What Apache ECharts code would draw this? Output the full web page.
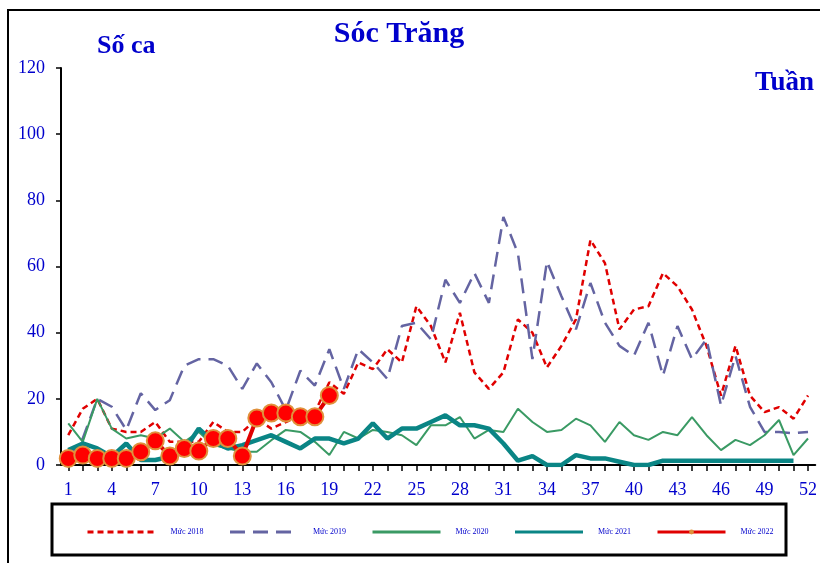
<!DOCTYPE html>
<html>
<head>
<meta charset="utf-8">
<script src="https://cdn.jsdelivr.net/npm/echarts@6/dist/echarts.min.js"></script>
<style>
  html, body { margin: 0; padding: 0; background: #fff; }
</style>
</head>
<body>
<div id="socTrangChart" style="width: 820px; height: 563px;"></div>
<script>
// tuần 1..52
let weeks = [];
for (let i = 1; i <= 52; i++) {
  weeks.push(String(i));
}

let yTicks = [0, 20, 40, 60, 80, 100, 120];

let muc2018 = [9, 17, 20, 11, 10, 10, 13, 7, 7, 7, 13, 10, 10, 14, 11, 13, 15, 16, 25, 21.5,
  31, 29, 35, 31, 48, 42, 31, 46, 28, 23, 28, 44, 40, 29.5, 36, 44, 68, 61, 41, 47,
  48, 58, 54, 47, 36, 21, 36, 21, 16, 17.5, 14, 21];

let muc2019 = [2, 8, 20, 17.6, 10.6, 21.7, 16.6, 19.6, 30, 32, 32, 30, 23, 30.7, 25, 16.6, 28.5, 24, 35, 23,
  35, 31, 26, 42, 43, 38, 56, 49, 58, 49, 75, 64, 32, 61.5, 51, 41, 55, 43, 36, 33,
  43, 27, 42, 32, 38, 18, 33, 17.6, 10, 10, 9.6, 10];

let muc2020 = [12.6, 7, 20, 11, 8, 9, 8, 11, 7, 10, 6, 5, 4, 4, 7.5, 10.6, 10, 7, 3, 10,
  8, 10.6, 10, 9, 6, 12, 12, 14.5, 8, 10.6, 10, 17, 13, 10, 10.6, 14, 12, 7, 13, 9,
  7.6, 10, 9, 14.5, 9, 4.5, 7.6, 6, 9, 13.6, 3, 8];

let muc2021 = [4.5, 6.5, 5, 2.5, 6.5, 1.5, 1.5, 2.5, 4.5, 11, 7, 5, 6, 7.5, 9, 7, 5, 8, 8, 6.5,
  8, 12.6, 8, 11, 11, 13, 15, 12, 12, 11, 6.5, 1.3, 2.7, 0, 0, 3, 2, 2, 1, 0,
  0, 1.3, 1.3, 1.3, 1.3, 1.3, 1.3, 1.3, 1.3, 1.3, 1.3, null];

let muc2022 = [2, 3, 2, 2, 2, 4, 7.3, 2.7, 5, 4.2, 8, 8, 2.7, 14.2, 15.7, 15.7, 14.6, 14.6, 21];

let blue = "#0000cc";
let serif = "Liberation Serif";

let seriesData = [];
seriesData.push({
  name: "Mức 2018",
  type: "line",
  symbol: "none",
  lineStyle: { color: "#e00000", width: 2.5, type: [6, 4] },
  itemStyle: { color: "#e00000" },
  data: muc2018
});
seriesData.push({
  name: "Mức 2019",
  type: "line",
  symbol: "none",
  lineStyle: { color: "#6464a2", width: 2.5, type: [15, 8] },
  itemStyle: { color: "#6464a2" },
  data: muc2019
});
seriesData.push({
  name: "Mức 2020",
  type: "line",
  symbol: "none",
  lineStyle: { color: "#3a9a64", width: 2 },
  itemStyle: { color: "#3a9a64" },
  data: muc2020
});
seriesData.push({
  name: "Mức 2021",
  type: "line",
  symbol: "none",
  lineStyle: { color: "#0a8585", width: 4.5 },
  itemStyle: { color: "#0a8585" },
  data: muc2021
});
seriesData.push({
  name: "Mức 2022",
  type: "line",
  symbol: "circle",
  symbolSize: 17,
  showAllSymbol: true,
  lineStyle: { color: "#e00000", width: 4 },
  itemStyle: { color: "#ff0000", borderColor: "#e0913c", borderWidth: 2 },
  data: muc2022
});

// legend: no dots for plain lines, small orange square for 2022
let legendData = [
  { name: "Mức 2018", itemStyle: { opacity: 0 } },
  { name: "Mức 2019", itemStyle: { opacity: 0 } },
  { name: "Mức 2020", itemStyle: { opacity: 0 } },
  { name: "Mức 2021", itemStyle: { opacity: 0 } },
  { name: "Mức 2022", itemStyle: { color: "#e0913c", borderWidth: 0 } }
];

let chartsOptions = {
  animation: false,
  grid: {
    top: 68,
    left: 61,
    right: 3,
    bottom: 98
  },
  legend: {
    data: legendData,
    left: 81,
    top: 523,
    itemWidth: 68,
    itemHeight: 6,
    itemGap: 25,
    lineStyle: { width: 3 },
    textStyle: {
      fontFamily: serif,
      fontSize: 8,
      color: blue,
      padding: [0, 0, 0, 10]
    }
  },
  xAxis: {
    type: "category",
    boundaryGap: true,
    data: weeks,
    axisLine: { lineStyle: { color: "#000", width: 2 } },
    axisTick: { show: true, alignWithLabel: true, interval: 0, length: 6, lineStyle: { color: "#000", width: 1.5 } },
    axisLabel: {
      interval: 2,
      margin: 16,
      fontFamily: serif,
      fontSize: 18,
      color: blue
    },
    splitLine: { show: false }
  },
  yAxis: {
    type: "value",
    min: yTicks[0],
    max: yTicks[yTicks.length - 1],
    interval: 20,
    axisLine: { show: true, lineStyle: { color: "#000", width: 2 } },
    axisTick: { show: true, length: 5, lineStyle: { color: "#000", width: 1.5 } },
    axisLabel: {
      margin: 16,
      fontFamily: serif,
      fontSize: 18,
      color: blue
    },
    splitLine: { show: false }
  },
  graphic: [
    {
      type: "rect",
      shape: { x: 8, y: 10, width: 830, height: 600 },
      style: { fill: "none", stroke: "#000", lineWidth: 2 },
      silent: true
    },
    {
      type: "rect",
      shape: { x: 52, y: 504, width: 734, height: 51 },
      style: { fill: "none", stroke: "#000", lineWidth: 3 },
      silent: true
    },
    {
      type: "text",
      x: 399,
      y: 34,
      style: {
        text: "Sóc Trăng",
        fill: blue,
        font: "bold 30px " + serif,
        textAlign: "center",
        textVerticalAlign: "middle"
      }
    },
    {
      type: "text",
      x: 97,
      y: 46,
      style: {
        text: "Số ca",
        fill: blue,
        font: "bold 26px " + serif,
        textAlign: "left",
        textVerticalAlign: "middle"
      }
    },
    {
      type: "text",
      x: 814,
      y: 83,
      style: {
        text: "Tuần",
        fill: blue,
        font: "bold 27px " + serif,
        textAlign: "right",
        textVerticalAlign: "middle"
      }
    }
  ],
  series: seriesData
};

let chartDom = document.getElementById("socTrangChart");
let dataCharts = echarts.init(chartDom);
dataCharts.setOption(chartsOptions);
</script>
</body>
</html>
